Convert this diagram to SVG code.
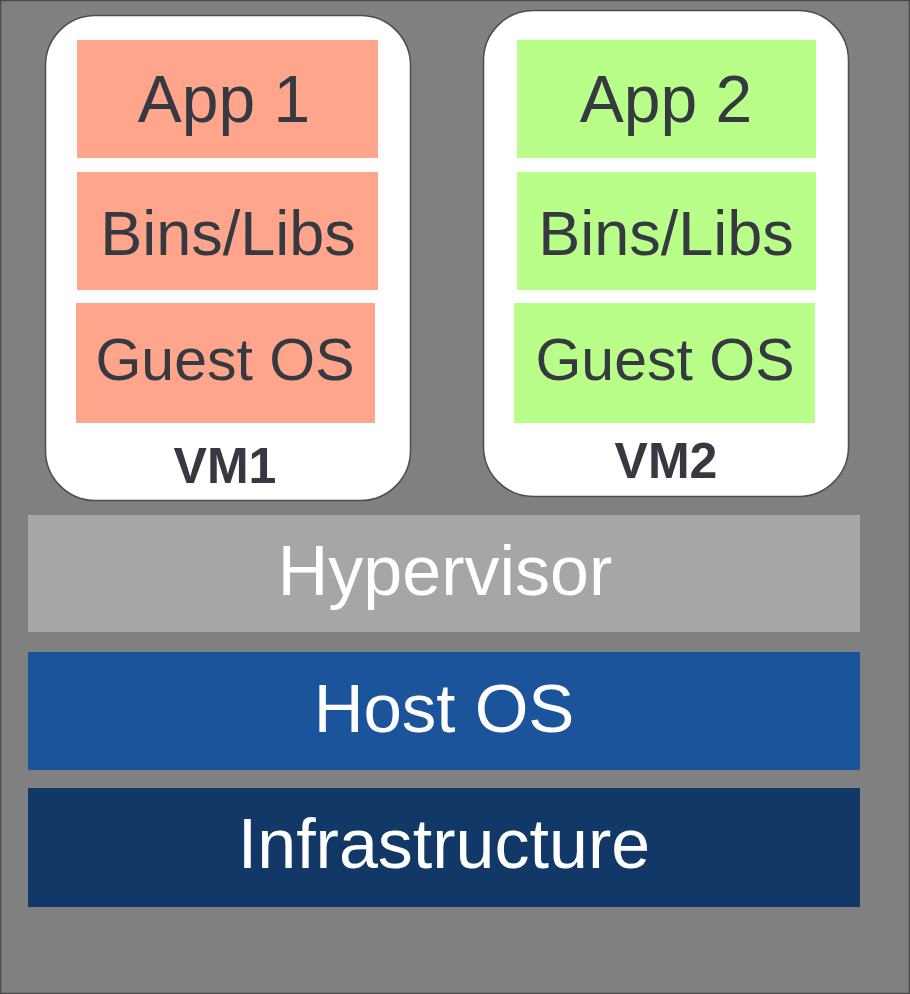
<svg xmlns="http://www.w3.org/2000/svg" width="910" height="994" viewBox="0 0 910 994">
<style>
.vm{fill:#ffffff;stroke:#4d4d4d;stroke-width:1.5}
.red{fill:#fea58c}
.grn{fill:#b9fe89}
.t{font-family:"Liberation Sans",Arial,sans-serif;text-anchor:middle;fill:#363a40}
.big{font-size:66px}
.mid{font-size:63px}
.gos{font-size:59px}
.lbl{font-size:50px;font-weight:bold}
.w{font-family:"Liberation Sans",Arial,sans-serif;text-anchor:middle;fill:#ffffff;font-size:69px}
</style>
<rect x="0.5" y="0.5" width="909" height="993" fill="#808080" stroke="#4a4a4a" stroke-width="1.5"/>
<g id="vm1">
<rect class="vm" x="45.5" y="15.5" width="365" height="485" rx="50" ry="50"/>
<rect class="red" x="77" y="40" width="301" height="118"/>
<text class="t big" x="224" y="122">App 1</text>
<rect class="red" x="77" y="172" width="301" height="118"/>
<text class="t mid" x="228" y="255">Bins/Libs</text>
<rect class="red" x="76" y="303" width="299" height="120"/>
<text class="t gos" x="225" y="380">Guest OS</text>
<text class="t lbl" x="225" y="483">VM1</text>
</g>
<g id="vm2">
<rect class="vm" x="483.5" y="10.5" width="365" height="486" rx="50" ry="50"/>
<rect class="grn" x="517" y="40" width="299" height="118"/>
<text class="t big" x="666" y="122">App 2</text>
<rect class="grn" x="517" y="172" width="299" height="118"/>
<text class="t mid" x="666" y="255">Bins/Libs</text>
<rect class="grn" x="514" y="303" width="301" height="120"/>
<text class="t gos" x="665" y="380">Guest OS</text>
<text class="t lbl" x="666" y="478">VM2</text>
</g>
<g id="hypervisor">
<rect x="28" y="515" width="832" height="117" fill="#a6a6a6"/>
<text class="w" x="445" y="595" style="font-size:70px">Hypervisor</text>
</g>
<g id="hostos">
<rect x="28" y="652" width="832" height="118" fill="#1b549a"/>
<text class="w" x="444" y="732">Host OS</text>
</g>
<g id="infrastructure">
<rect x="28" y="788" width="832" height="119" fill="#113867"/>
<text class="w" x="444" y="868" style="font-size:70px">Infrastructure</text>
</g>
<g id="connectors"></g>
</svg>
